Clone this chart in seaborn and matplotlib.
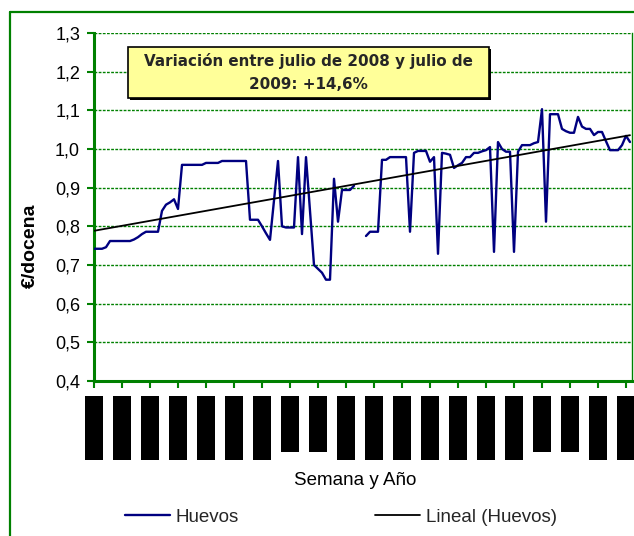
import numpy as np
import pandas as pd
import matplotlib
matplotlib.use("Agg")
import matplotlib.pyplot as plt
from matplotlib.lines import Line2D
from matplotlib.patches import Rectangle
import seaborn as sns


# DATOS (precio semanal, euros por docena)

precio = [
    0.742, 0.742, 0.742, 0.746, 0.762, 0.762, 0.762, 0.762, 0.762, 0.762,
    0.766, 0.772, 0.780, 0.786, 0.786, 0.786, 0.786, 0.840, 0.856, 0.862,
    0.870, 0.845, 0.959, 0.959, 0.959, 0.959, 0.959, 0.959, 0.964, 0.964,
    0.964, 0.964, 0.969, 0.969, 0.969, 0.969, 0.969, 0.969, 0.969, 0.817,
    0.817, 0.817, 0.800, 0.782, 0.765, 0.867, 0.969, 0.800, 0.797, 0.797,
    0.797, 0.979, 0.780, 0.979, 0.840, 0.700, 0.690, 0.680, 0.662, 0.662,
    0.923, 0.812, 0.894, 0.894, 0.894, 0.905, np.nan, np.nan, 0.775, 0.786,
    0.786, 0.786, 0.972, 0.972, 0.979, 0.979, 0.979, 0.979, 0.979, 0.786,
    0.990, 0.995, 0.995, 0.995, 0.967, 0.979, 0.729, 0.990, 0.988, 0.985,
    0.951, 0.958, 0.964, 0.979, 0.979, 0.990, 0.990, 0.994, 0.997, 1.005,
    0.734, 1.018, 1.000, 0.993, 0.993, 0.734, 0.993, 1.010, 1.010, 1.010,
    1.015, 1.018, 1.103, 0.812, 1.090, 1.090, 1.090, 1.052, 1.046, 1.042,
    1.042, 1.083, 1.058, 1.052, 1.052, 1.036, 1.044, 1.044, 1.020, 0.997,
    0.997, 0.997, 1.010, 1.034, 1.018,
]
semanas = list(range(len(precio)))

etiquetas_x = [
    "07/01/07", "25/02/07", "15/04/07", "03/06/07", "22/07/07",
    "09/09/07", "28/10/07", "6/12/07", "3/02/08", "23/03/08",
    "11/05/08", "29/06/08", "17/08/08", "05/10/08", "23/11/08",
    "11/01/09", "1/03/09", "9/04/09", "07/06/09", "26/07/09",
]
ticks_y = [0.4, 0.5, 0.6, 0.7, 0.8, 0.9, 1.0, 1.1, 1.2, 1.3]

verde = "#008000"
azul = "#000080"

sns.set_theme(style="white")
plt.rcParams["font.family"] = ["Liberation Sans", "DejaVu Sans"]

df = pd.DataFrame({"semana": semanas, "precio": precio})
df["tramo"] = df["precio"].isna().cumsum()
df_ok = df.dropna()

fig = plt.figure(figsize=(6.34, 5.36), dpi=100)
ax = fig.add_axes([94 / 634, 1 - 381 / 536, 538 / 634, 348 / 536])

# serie y tendencia lineal
sns.lineplot(data=df_ok, x="semana", y="precio", units="tramo",
             estimator=None, color=azul, lw=1.7, ax=ax, zorder=3)
sns.regplot(data=df_ok, x="semana", y="precio", scatter=False, ci=None,
            color="black", line_kws={"lw": 1.3, "zorder": 4}, ax=ax)

# ejes
ax.set_xlim(0, 134.5)
ax.set_ylim(0.4, 1.3)
ax.set_yticks(ticks_y)
ax.set_yticklabels([f"{v:.1f}".replace(".", ",") for v in ticks_y])
ax.set_xticks(range(0, 134, 7))
ax.set_xticklabels(etiquetas_x, rotation=90, fontsize=9.4,
                   family="DejaVu Sans", color="black")
for lab in ax.get_xticklabels():
    lab.set_bbox(dict(boxstyle="square,pad=0.2", fc="black", ec="none"))

ax.yaxis.grid(True, color=verde, linestyle=(0, (2, 1)), lw=1)
ax.set_axisbelow(True)

ax.spines["top"].set_visible(False)
ax.spines["left"].set_color(verde)
ax.spines["left"].set_linewidth(2.2)
ax.spines["bottom"].set_color(verde)
ax.spines["bottom"].set_linewidth(2.2)
ax.spines["right"].set_color(verde)
ax.spines["right"].set_linewidth(1)

ax.tick_params(axis="y", left=True, direction="out", length=5, width=1.5,
               color=verde, labelsize=13, pad=5, labelcolor="black")
ax.tick_params(axis="x", bottom=True, direction="out", length=5, width=1.5,
               color=verde, pad=8)

ax.set_ylabel("€/docena", fontsize=14, fontweight="bold", color="black")
ax.yaxis.set_label_coords(-0.102, 0.39)
ax.set_xlabel("Semana y Año", fontsize=13.5, color="black")
ax.xaxis.set_label_coords(0.485, -0.261)

# recuadro de texto
ax.add_patch(Rectangle((0.0632 + 0.0037, 0.813 - 0.0057), 0.671, 0.1466,
                       transform=ax.transAxes, fc="black", ec="none",
                       zorder=5))
ax.add_patch(Rectangle((0.0632, 0.813), 0.671, 0.1466,
                       transform=ax.transAxes, fc="#FFFF99", ec="black",
                       lw=1.2, zorder=6))
ax.text(0.398, 0.886, "Variación entre julio de 2008 y julio de\n2009: +14,6%",
        transform=ax.transAxes, ha="center", va="center", fontsize=10.9,
        fontweight="bold", family="DejaVu Sans", linespacing=1.65, zorder=7)

# leyenda
handles = [Line2D([], [], color=azul, lw=1.7),
           Line2D([], [], color="black", lw=1.3)]
fig.legend(handles, ["Huevos", "Lineal (Huevos)"], loc="center",
           bbox_to_anchor=(0.538, 1 - 517 / 536), ncol=2, frameon=False,
           fontsize=13.5, handlelength=2.4, handletextpad=0.3,
           columnspacing=7.25)

# borde del grafico
fig.add_artist(Line2D([10 / 634, 10 / 634], [0, 1 - 12 / 536],
                      transform=fig.transFigure, color=verde, lw=1.6))
fig.add_artist(Line2D([10 / 634, 1], [1 - 12 / 536, 1 - 12 / 536],
                      transform=fig.transFigure, color=verde, lw=1.6))

fig.savefig("out.png", dpi=100)
